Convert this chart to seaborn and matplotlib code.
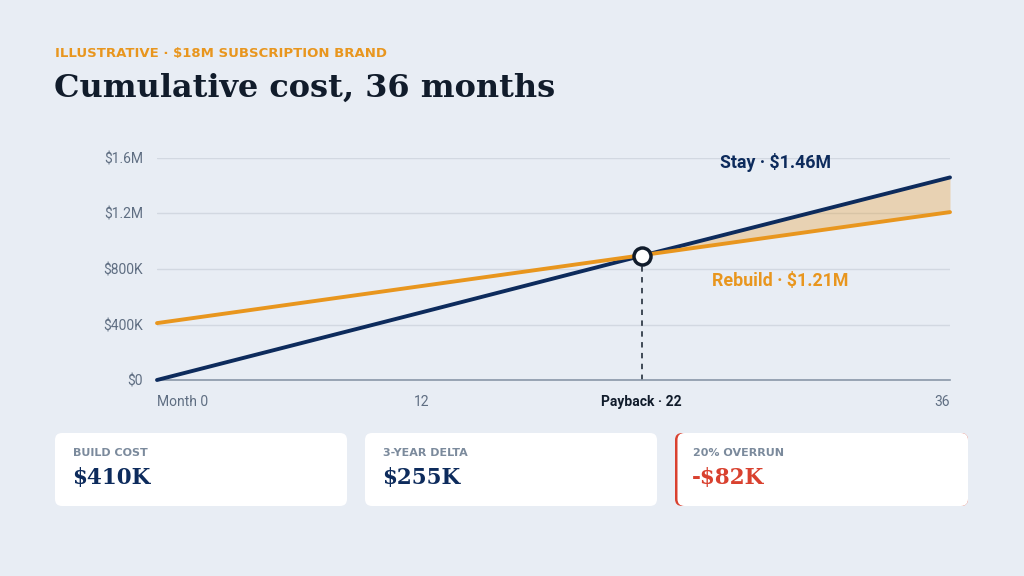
import pandas as pd
import matplotlib.pyplot as plt
import seaborn as sns
from matplotlib.patches import FancyBboxPatch

# data (thousands of $)
months = [0, 12, 22, 36]
stay = [0, 487, 895, 1460]
rebuild = [410, 677, 899, 1210]
payback_month = 22
payback_value = 897
y_ticks = [0, 400, 800, 1200, 1600]
y_labels = ["$0", "$400K", "$800K", "$1.2M", "$1.6M"]
x_ticks = [0, 12, 22, 36]
x_labels = ["Month 0", "12", "Payback · 22", "36"]
card_titles = ["BUILD COST", "3-YEAR DELTA", "20% OVERRUN"]
card_values = ["$410K", "$255K", "-$82K"]

BG = "#e8edf4"
NAVY = "#0d2b5c"
ORANGE = "#e8961e"
RED = "#d9412f"
GREY = "#5f6e82"

sns.set_theme(style="white")
plt.rcParams['font.family'] = ['Roboto', 'DejaVu Sans']

df = pd.DataFrame({"month": months * 2,
                   "cost": stay + rebuild,
                   "plan": ["Stay"] * len(months) + ["Rebuild"] * len(months)})

fig = plt.figure(figsize=(10.24, 5.76), dpi=100, facecolor=BG)

# overlay in pixel coords for header + cards
ov = fig.add_axes([0, 0, 1, 1])
ov.set_xlim(0, 1024)
ov.set_ylim(576, 0)
ov.axis("off")

ov.text(55, 53, "ILLUSTRATIVE · $18M SUBSCRIPTION BRAND", fontsize=9.5,
        fontweight="bold", color=ORANGE, va="center", ha="left",
        family=["DejaVu Sans"])
ov.text(54, 88, "Cumulative cost, 36 months", fontsize=23, fontweight="bold",
        color="#111c2b", va="center", ha="left", family=["DejaVu Serif"])

card_x = [55, 365, 675]
for i, (t, v) in enumerate(zip(card_titles, card_values)):
    x0 = card_x[i]
    if i == 2:
        ov.add_patch(FancyBboxPatch((x0, 433), 293, 73,
                                    boxstyle="round,pad=0,rounding_size=7",
                                    fc=RED, ec="none"))
        ov.add_patch(FancyBboxPatch((x0 + 2.5, 433), 290.5, 73,
                                    boxstyle="round,pad=0,rounding_size=7",
                                    fc="white", ec="none"))
    else:
        ov.add_patch(FancyBboxPatch((x0, 433), 292, 73,
                                    boxstyle="round,pad=0,rounding_size=7",
                                    fc="white", ec="none"))
    ov.text(x0 + 18, 453, t, fontsize=8, fontweight="bold", color="#7b8a9c",
            va="center", ha="left", family=["DejaVu Sans"])
    ov.text(x0 + 17, 478, v, fontsize=15.5, fontweight="bold",
            color=RED if i == 2 else NAVY, va="center", ha="left",
            family=["DejaVu Serif"])

# main chart
ax = fig.add_axes([157 / 1024, 196 / 576, 793 / 1024, 222 / 576])
ax.set_facecolor(BG)
sns.lineplot(data=df, x="month", y="cost", hue="plan",
             palette={"Stay": NAVY, "Rebuild": ORANGE}, linewidth=2.8,
             legend=False, ax=ax, clip_on=False, zorder=3)
ax.fill_between(months, stay, rebuild,
                where=[s >= r for s, r in zip(stay, rebuild)],
                interpolate=True, color=ORANGE, alpha=0.3, lw=0, zorder=2)

ax.plot([payback_month, payback_month], [0, payback_value], ls=(0, (3, 3)),
        color="#333d4a", lw=1.3, zorder=2)
ax.scatter([payback_month], [payback_value], s=150, color="white",
           edgecolor="#111c2b", linewidth=2.5, zorder=5, clip_on=False)

ax.set_xlim(0, 36)
ax.set_ylim(0, 1600)
ax.set_yticks(y_ticks)
ax.set_yticklabels(y_labels)
ax.set_xticks(x_ticks)
ax.set_xticklabels(x_labels)
ax.grid(axis="y", color="#d2d8e1", lw=1)
ax.set_axisbelow(True)
for s in ["top", "right", "left"]:
    ax.spines[s].set_visible(False)
ax.spines["bottom"].set_color("#8a97a8")
ax.spines["bottom"].set_linewidth(1.2)
ax.tick_params(axis="both", length=0, labelsize=10, labelcolor=GREY)
ax.tick_params(axis="x", pad=11)
ax.tick_params(axis="y", pad=10)
ax.set_xlabel("")
ax.set_ylabel("")

xl = ax.get_xticklabels()
xl[0].set_ha("left")
xl[3].set_ha("right")
xl[2].set_fontweight("bold")
xl[2].set_color("#111c2b")

ax.text(28.1, 1571, "Stay · $1.46M", color=NAVY, fontsize=12.8,
        fontweight="bold", ha="center", va="center")
ax.text(28.3, 713, "Rebuild · $1.21M", color=ORANGE, fontsize=12.8,
        fontweight="bold", ha="center", va="center")

fig.savefig("out.png", dpi=100, facecolor=BG)
